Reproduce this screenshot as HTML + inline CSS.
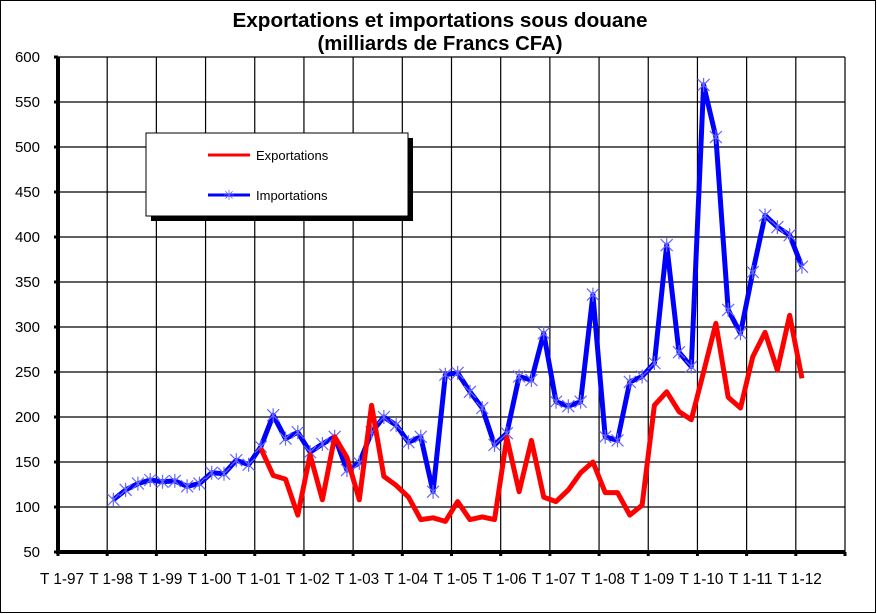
<!DOCTYPE html>
<html><head><meta charset="utf-8"><style>
html,body{margin:0;padding:0;background:#fff}
svg{display:block;font-family:"Liberation Sans",Arial,sans-serif}
</style></head><body>
<svg id="chart" width="877" height="614" viewBox="0 0 877 614">
<rect x="0.5" y="0.5" width="875" height="612" fill="#fff" stroke="#000" stroke-width="1"/>
<text x="440" y="27" text-anchor="middle" font-size="20" font-weight="bold" textLength="415" lengthAdjust="spacingAndGlyphs">Exportations et importations sous douane</text>
<text x="440" y="50" text-anchor="middle" font-size="20" font-weight="bold" textLength="245" lengthAdjust="spacingAndGlyphs">(milliards de Francs CFA)</text>
<g id="grid"></g>
<g id="series"></g>
<g id="axes"></g>
<g>
<rect x="151" y="138" width="262" height="83" fill="#000"/>
<rect x="146" y="133" width="262" height="83" fill="#fff" stroke="#000" stroke-width="1"/>
<line x1="208" y1="155" x2="250" y2="155" stroke="#f00" stroke-width="3"/>
<text x="256" y="160" font-size="13">Exportations</text>
<line x1="208" y1="195" x2="250" y2="195" stroke="#00f" stroke-width="3"/>
<text x="229" y="200" text-anchor="middle" font-size="14" fill="#55f">✳</text>
<text x="256" y="200" font-size="13">Importations</text>
</g>
</svg>
<script>
const yTicks=[50,100,150,200,250,300,350,400,450,500,550,600];
const xLabels=["T1-97","T1-98","T1-99","T1-00","T1-01","T1-02","T1-03","T1-04","T1-05","T1-06","T1-07","T1-08","T1-09","T1-10","T1-11","T1-12"];
const importStart=4;
const imports=[108,119,126,130,128,129,123,126,138,137,152,147,167,202,176,183,161,170,178,141,149,183,200,191,172,178,117,247,249,228,210,169,182,245,241,293,217,212,217,336,178,174,239,245,260,391,272,256,569,511,319,293,361,424,411,402,367];
const exportStart=16;
const exports_=[165,135,131,91,158,108,178,155,108,213,134,124,111,86,88,84,106,86,89,86,177,117,174,111,106,119,138,150,116,116,91,102,213,228,206,197,250,304,222,210,267,294,252,313,243];
const NS="http://www.w3.org/2000/svg";
const X0=58,X1=845,Y0=552,Y1=57,nQ=64;
const qw=(X1-X0)/nQ;
function xq(i){return X0+(i+0.5)*qw;}
function yv(v){return Y0-(v-50)/550*(Y0-Y1);}
function mk(tag,attrs,parent){const e=document.createElementNS(NS,tag);for(const k in attrs)e.setAttribute(k,attrs[k]);parent.appendChild(e);return e;}
const grid=document.getElementById('grid'),axes=document.getElementById('axes'),ser=document.getElementById('series');
yTicks.forEach(t=>{
  const y=yv(t);
  if(t>50){const l=mk('line',{x1:X0,x2:X1,y1:y,y2:y,stroke:'#000','stroke-width':1.2},grid);
  
  }
  const tk=mk('line',{x1:X0-4,x2:X0,y1:y,y2:y,stroke:'#000','stroke-width':3},axes);
  
  
  const tx=mk('text',{x:40,y:y+5,'text-anchor':'end','font-size':15},axes);
  tx.textContent=t;
  
  
});
for(let k=0;k<=16;k++){
  const x=X0+k*4*qw;
  if(k>0){const l=mk('line',{x1:x,x2:x,y1:Y1,y2:Y0,stroke:'#000','stroke-width':1.2},grid);
  
  }
  const tk=mk('line',{x1:x,x2:x,y1:Y0,y2:Y0+4,stroke:'#000','stroke-width':3},axes);
  
  
}
xLabels.forEach((s,k)=>{
  const tx=mk('text',{x:X0+k*4*qw+4,y:584,'text-anchor':'middle','font-size':16,textLength:44,lengthAdjust:'spacingAndGlyphs'},axes);
  tx.textContent=s.replace('T1','T 1');
  
  
});
const ya=mk('line',{x1:X0,x2:X0,y1:Y1,y2:Y0+2,stroke:'#000','stroke-width':4},axes);


const xa=mk('line',{x1:X0-2,x2:X1,y1:Y0,y2:Y0,stroke:'#000','stroke-width':4},axes);


const ip=imports.map((v,i)=>xq(i+importStart)+','+yv(v)).join(' ');
const imp=mk('polyline',{points:ip,fill:'none',stroke:'#00f','stroke-width':5,'stroke-linejoin':'round'},ser);


imports.forEach((v,i)=>{
  const x=xq(i+importStart),y=yv(v),r=6;
  const g=mk('path',{d:`M${x-r},${y-r}L${x+r},${y+r}M${x-r},${y+r}L${x+r},${y-r}M${x},${y-r-1}L${x},${y+r+1}`,stroke:'#66f','stroke-width':1.2,fill:'none'},ser);
  
  
});
const ep=exports_.map((v,i)=>xq(i+exportStart)+','+yv(v)).join(' ');
const exl=mk('polyline',{points:ep,fill:'none',stroke:'#f00','stroke-width':5,'stroke-linejoin':'round'},ser);


</script>
</body></html>
